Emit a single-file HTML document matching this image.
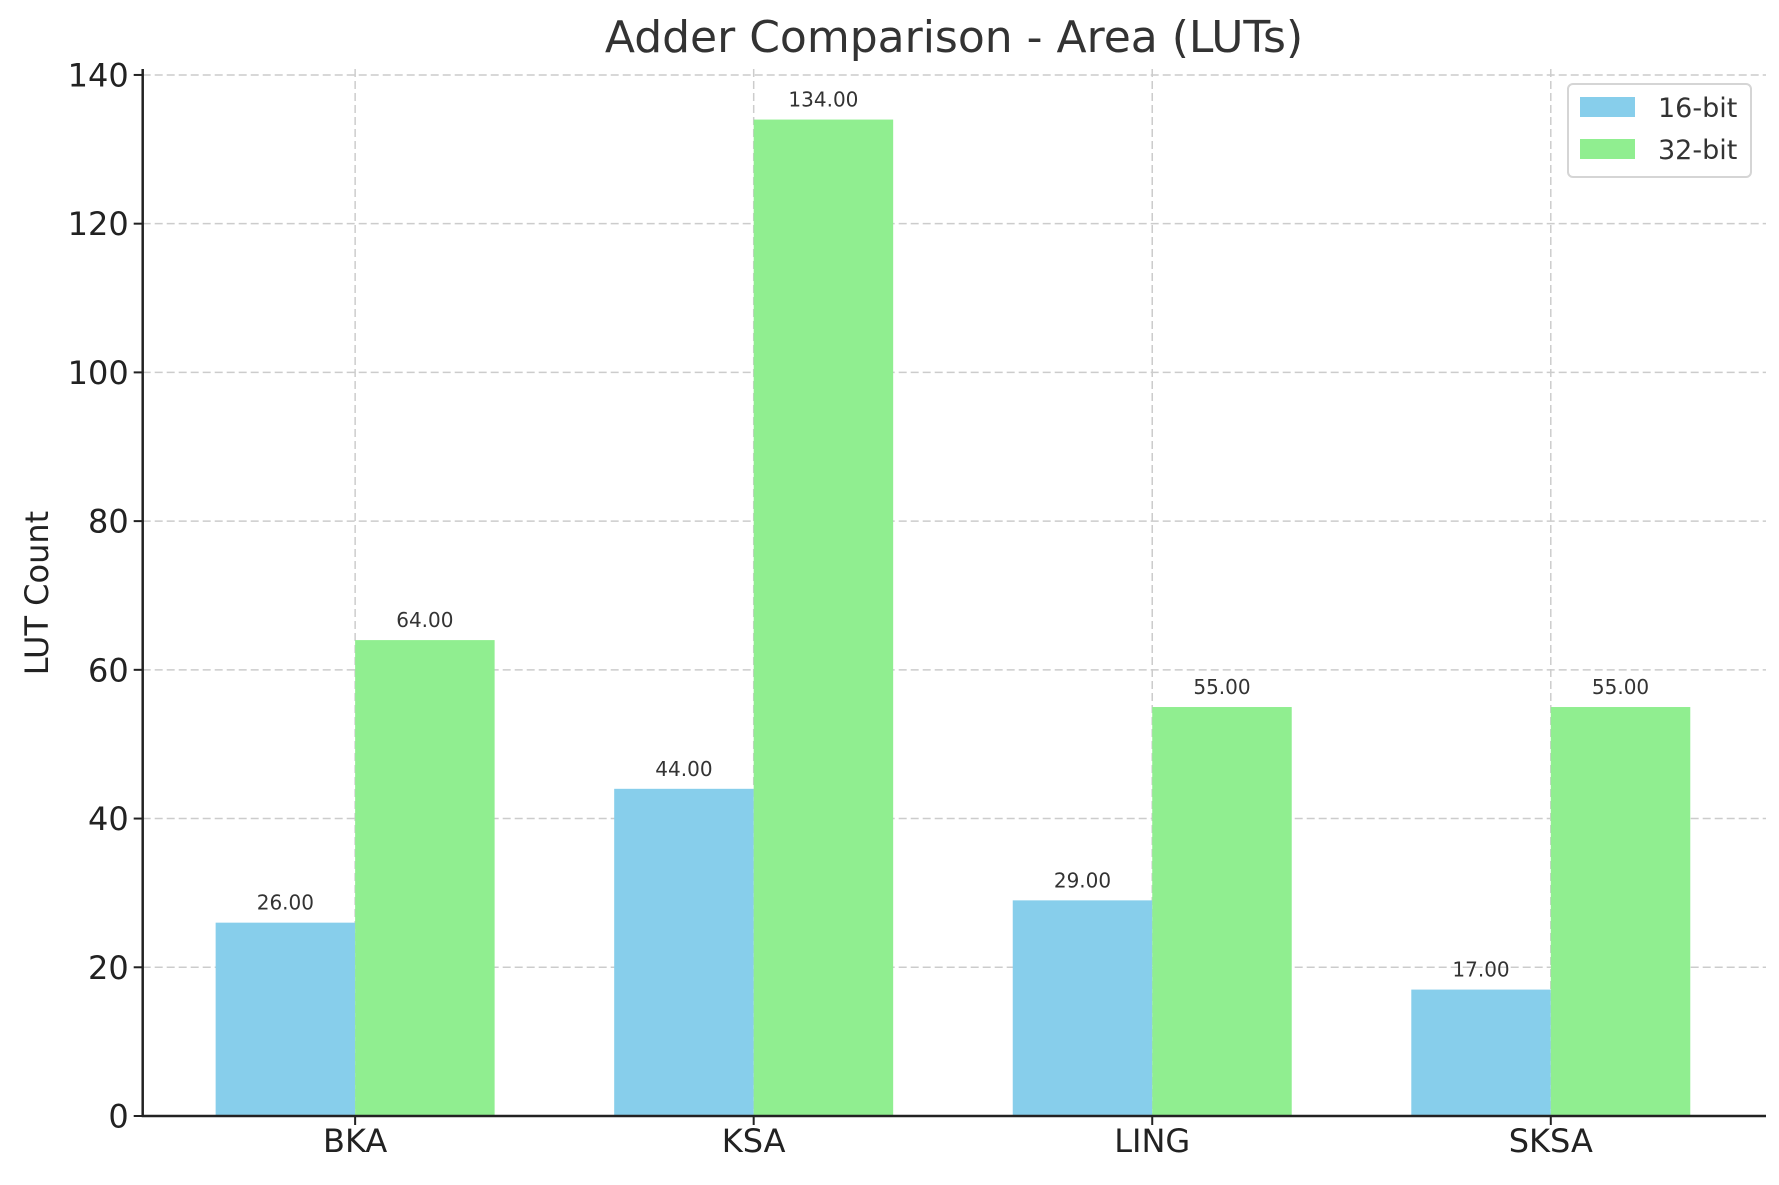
<!DOCTYPE html>
<html><head><meta charset="utf-8"><style>
html,body{margin:0;padding:0;background:#fff;}
svg text{font-family:"DejaVu Sans","Liberation Sans",sans-serif;}
</style></head><body>
<svg id="chart" xmlns="http://www.w3.org/2000/svg" width="1779" height="1180" viewBox="0 0 1779 1180">
<rect width="1779" height="1180" fill="#fff"/>
<text x="954" y="52" text-anchor="middle" font-size="44" fill="#333">Adder Comparison - Area (LUTs)</text>
<text transform="translate(48,593) rotate(-90)" text-anchor="middle" font-size="32" fill="#222">LUT Count</text>
<g id="grid"></g>
<g id="bars"></g>
<g id="labels"></g>
<g id="axes"></g>
<g>
<rect x="1568" y="84" width="183" height="93" rx="5" fill="#fff" fill-opacity="0.85" stroke="#d5d5d5" stroke-width="2"/>
<rect x="1580" y="97" width="55" height="20" fill="#87CEEB"/>
<text x="1658" y="117" font-size="27" fill="#333">16-bit</text>
<rect x="1580" y="139" width="55" height="20" fill="#90EE90"/>
<text x="1658" y="159" font-size="27" fill="#333">32-bit</text>
</g>
</svg>
<script>
const categories = ["BKA", "KSA", "LING", "SKSA"];
const series16 = [26, 44, 29, 17];
const series32 = [64, 134, 55, 55];
const yTicks = [0, 20, 40, 60, 80, 100, 120, 140];

const NS = "http://www.w3.org/2000/svg";
const L = 142.7, R = 1766, T = 69, B = 1116;
const xMin = -0.533, xMax = 3.54, yMin = 0, yMax = 140.8;
const barW = 0.35;
function xs(v){ return L + (v - xMin) / (xMax - xMin) * (R - L); }
function ys(v){ return B - (v - yMin) / (yMax - yMin) * (B - T); }
function mk(tag, attrs, parent){
  const e = document.createElementNS(NS, tag);
  for (const k in attrs) e.setAttribute(k, attrs[k]);
  parent.appendChild(e);
  return e;
}
const grid = document.getElementById('grid');
const bars = document.getElementById('bars');
const labels = document.getElementById('labels');
const axes = document.getElementById('axes');

yTicks.forEach(t => {
  const y = ys(t);
  const g = mk('line', {x1:L, x2:R, y1:y, y2:y, stroke:'#cccccc', 'stroke-width':1.5, 'stroke-dasharray':'8,4'}, grid);
  
  
  const tk = mk('line', {x1:L-9, x2:L, y1:y, y2:y, stroke:'#222', 'stroke-width':2}, axes);
  
  
  const tl = mk('text', {x:L-14, y:y+11.5, 'text-anchor':'end', 'font-size':32, fill:'#222'}, axes);
  tl.textContent = t;
  
  
});
categories.forEach((c, i) => {
  const x = xs(i);
  const g = mk('line', {x1:x, x2:x, y1:T, y2:B, stroke:'#cccccc', 'stroke-width':1.5, 'stroke-dasharray':'8,4'}, grid);
  
  
  const pairs = [[series16[i], i - barW/2, '#87CEEB', 'bar-16bit-'], [series32[i], i + barW/2, '#90EE90', 'bar-32bit-']];
  pairs.forEach(p => {
    const v = p[0], cx = p[1];
    const x0 = xs(cx - barW/2), x1 = xs(cx + barW/2);
    const r = mk('rect', {x:x0, y:ys(v), width:x1-x0, height:B-ys(v), fill:p[2]}, bars);
    
    
    const t = mk('text', {x:xs(cx), y:ys(v)-13, 'text-anchor':'middle', 'font-size':20, fill:'#333'}, labels);
    t.textContent = v.toFixed(2);
    
    
  });
  const tk = mk('line', {x1:x, x2:x, y1:B, y2:B+9, stroke:'#222', 'stroke-width':2}, axes);
  
  
  const tl = mk('text', {x:x, y:1152, 'text-anchor':'middle', 'font-size':32, fill:'#222'}, axes);
  tl.textContent = c;
  
  
});
const ya = mk('line', {x1:L, x2:L, y1:T, y2:B+1, stroke:'#222', 'stroke-width':2.5}, axes);


const xa = mk('line', {x1:L-1, x2:R, y1:B, y2:B, stroke:'#222', 'stroke-width':2.5}, axes);


</script>
</body></html>
